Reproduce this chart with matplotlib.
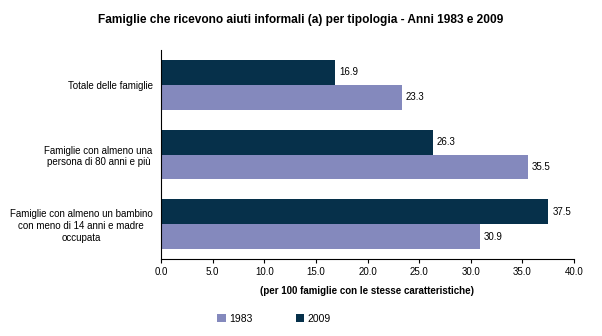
import numpy as np
import matplotlib
matplotlib.use('Agg')
import matplotlib.pyplot as plt

categories = ['Totale delle famiglie',
              'Famiglie con almeno una\npersona di 80 anni e più',
              'Famiglie con almeno un bambino\ncon meno di 14 anni e madre\noccupata']
val_1983 = [23.3, 35.5, 30.9]
val_2009 = [16.9, 26.3, 37.5]

col_1983 = '#8489BD'
col_2009 = '#06304A'

plt.rcParams['font.family'] = ['Liberation Sans', 'DejaVu Sans']

fig = plt.figure(figsize=(6.02, 3.36), dpi=100)
ax = fig.add_axes([161/602, 1 - 259/336, (574 - 161)/602, 209/336])

y = np.arange(len(categories))
h = 25/70
ax.barh(y - h/2, val_2009, height=h, color=col_2009, label='2009')
ax.barh(y + h/2, val_1983, height=h, color=col_1983, label='1983')

for i in range(len(categories)):
    ax.text(val_2009[i] + 0.4, y[i] - h/2, f'{val_2009[i]:.1f}', va='center', ha='left', fontsize=7)
    ax.text(val_1983[i] + 0.4, y[i] + h/2, f'{val_1983[i]:.1f}', va='center', ha='left', fontsize=7)

ax.set_xlim(0, 40)
ax.set_ylim(2.5, -0.5)
ax.set_xticks(np.arange(0, 41, 5))
ax.set_xticklabels([f'{v:.1f}' for v in np.arange(0, 41, 5)], fontsize=7)
ax.set_yticks(y)
ax.set_yticklabels(categories, fontsize=7, multialignment='center')
ax.tick_params(axis='y', length=0, pad=6)
ax.tick_params(axis='x', length=3, width=0.8, pad=3)
for s in ['top', 'right']:
    ax.spines[s].set_visible(False)
ax.spines['left'].set_linewidth(0.8)
ax.spines['bottom'].set_linewidth(0.8)
ax.set_xlabel('(per 100 famiglie con le stesse caratteristiche)', fontsize=7, fontweight='bold', labelpad=6)

fig.text(0.5, 1 - 20/336, 'Famiglie che ricevono aiuti informali (a) per tipologia - Anni 1983 e 2009',
         ha='center', va='center', fontsize=8.6, fontweight='bold')

handles, labels = ax.get_legend_handles_labels()
fig.legend(handles[::-1], labels[::-1], loc='center', bbox_to_anchor=(0.455, 1 - 319/336),
           ncol=2, frameon=False, fontsize=7.5, handlelength=0.8, handleheight=0.8,
           handletextpad=0.3, columnspacing=4.2)

fig.savefig('out.png', dpi=100)
